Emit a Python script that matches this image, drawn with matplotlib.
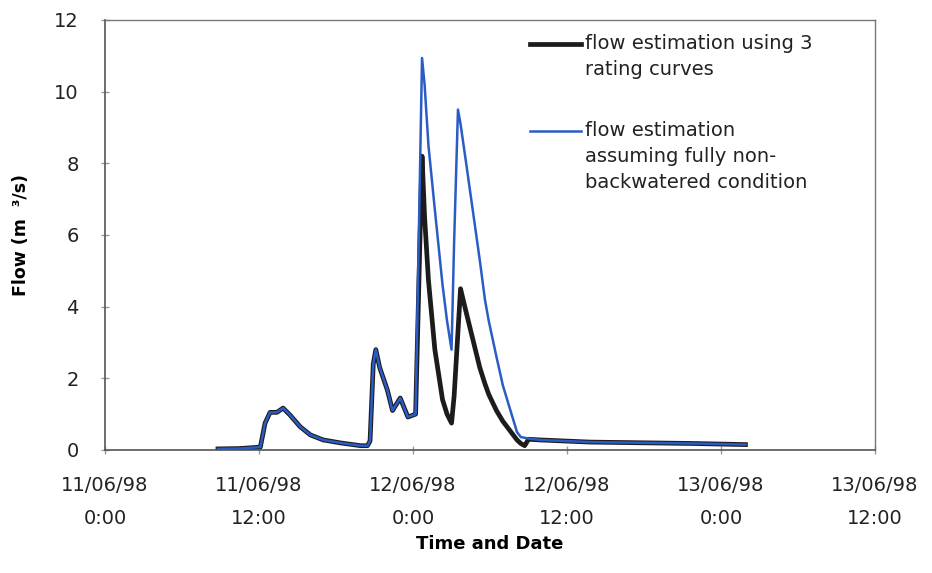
import numpy as np
import matplotlib
matplotlib.use("Agg")
import matplotlib.pyplot as plt
from matplotlib.legend_handler import HandlerLine2D

# hours after 11/06/98 0:00
hours = [8.8, 10.5, 12.1, 12.47, 12.86, 13.4, 13.87, 14.4, 15.2, 16.0, 17.0, 18.3,
         19.9, 20.45, 20.65, 20.9, 21.1, 21.4, 22.0, 22.4, 23.0, 23.6, 24.2,
         24.7, 24.9, 25.2, 25.7, 26.3, 26.65, 27.0, 27.2, 27.5, 27.7, 28.1, 29.2,
         29.6, 29.9, 30.5, 31.0, 32.1, 32.4, 32.7, 33.0, 33.9, 37.8, 42.0, 46.0, 49.9]

# flow estimation using 3 rating curves
flow_rating = [0.03, 0.04, 0.08, 0.75, 1.05, 1.05, 1.17, 0.98, 0.65, 0.42, 0.28, 0.2,
               0.12, 0.12, 0.25, 2.4, 2.8, 2.3, 1.67, 1.1, 1.45, 0.92, 1.0,
               8.2, 6.5, 4.74, 2.8, 1.4, 1.0, 0.75, 1.5, 3.3, 4.5, 3.9, 2.3,
               1.85, 1.55, 1.1, 0.8, 0.28, 0.18, 0.12, 0.3, 0.28, 0.22, 0.2, 0.18, 0.15]

# flow estimation assuming fully non-backwatered condition
flow_free = [0.03, 0.04, 0.08, 0.75, 1.05, 1.05, 1.17, 0.98, 0.65, 0.42, 0.28, 0.2,
             0.12, 0.12, 0.25, 2.4, 2.8, 2.3, 1.67, 1.1, 1.45, 0.92, 1.0,
             10.94, 10.2, 8.5, 6.7, 4.6, 3.6, 2.8, 5.8, 9.5, 9.1, 8.1, 5.3,
             4.2, 3.6, 2.6, 1.8, 0.5, 0.36, 0.34, 0.32, 0.28, 0.22, 0.2, 0.18, 0.15]

tick_hours = [0, 12, 24, 36, 48, 60]
tick_labels = ["11/06/98\n0:00", "11/06/98\n12:00", "12/06/98\n0:00",
               "12/06/98\n12:00", "13/06/98\n0:00", "13/06/98\n12:00"]

label_rating = "flow estimation using 3\nrating curves"
label_free = "flow estimation\nassuming fully non-\nbackwatered condition"

plt.rcParams['font.family'] = ['DejaVu Sans']

FS = 14
LEG_LS = 1.45


class TopLine(HandlerLine2D):
    # put the legend line next to the first line of a multi-line label
    def __init__(self, nlines, **kw):
        super().__init__(**kw)
        self.nlines = nlines

    def create_artists(self, legend, orig_handle, xdescent, ydescent, width,
                       height, fontsize, trans):
        arts = super().create_artists(legend, orig_handle, xdescent, ydescent,
                                      width, height, fontsize, trans)
        shift = (self.nlines - 1) / 2 * fontsize * 0.93 * LEG_LS
        for a in arts:
            a.set_ydata(np.asarray(a.get_ydata()) + shift)
        return arts


fig = plt.figure(figsize=(9.32, 5.73), dpi=100)
ax = fig.add_axes([0.1127, 0.2147, 0.8262, 0.7504])

l1, = ax.plot(hours, flow_rating, color='#1c1c1c', lw=3.4,
              solid_joinstyle='round', label=label_rating)
l2, = ax.plot(hours, flow_free, color='#2a5cc6', lw=1.8,
              solid_joinstyle='round', label=label_free)

ax.set_xlim(0, 60)
ax.set_ylim(0, 12)
ax.set_xticks(tick_hours)
ax.set_xticklabels(tick_labels, linespacing=1.9)
ax.set_yticks(range(0, 13, 2))
ax.tick_params(axis='both', direction='inout', length=6, width=1,
               color='#9a9a9a', labelsize=FS, labelcolor='#222222')
ax.tick_params(axis='x', pad=16)
ax.tick_params(axis='y', pad=16)

for s in ['left', 'bottom']:
    ax.spines[s].set_color('#555555')
    ax.spines[s].set_linewidth(1.2)
for s in ['top', 'right']:
    ax.spines[s].set_color('#777777')
    ax.spines[s].set_linewidth(1.0)

ax.set_ylabel("Flow (m  ³/s)", fontsize=12.5, fontweight='bold', labelpad=17)
ax.set_xlabel("Time and Date", fontsize=13, fontweight='bold', labelpad=5)

leg = ax.legend(handles=[l1, l2], loc='upper left', bbox_to_anchor=(0.552, 0.968),
                frameon=False, fontsize=FS, handlelength=2.6, handletextpad=0.2,
                labelspacing=2.2, borderpad=0, borderaxespad=0,
                handler_map={l1: TopLine(2), l2: TopLine(3)})
for t in leg.get_texts():
    t.set_linespacing(LEG_LS)
    t.set_color('#222222')

plt.savefig("out.png", dpi=100)
